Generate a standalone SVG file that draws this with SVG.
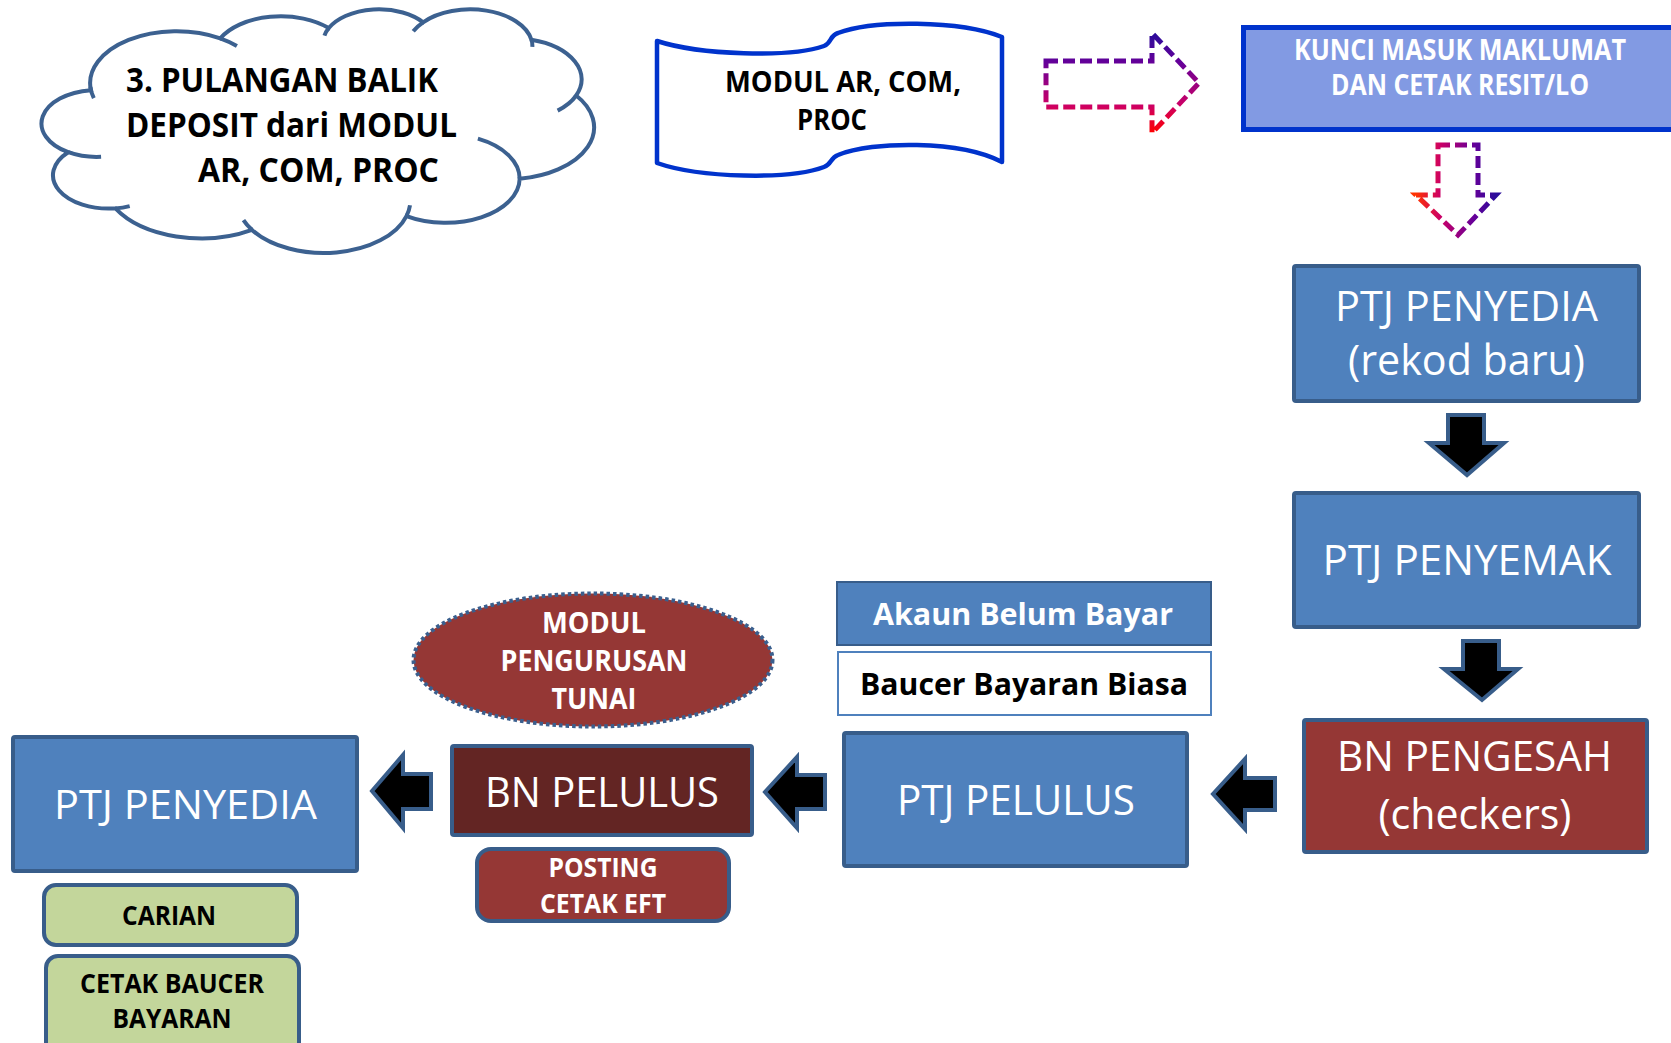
<svg xmlns="http://www.w3.org/2000/svg" width="1671" height="1043" viewBox="0 0 1671 1043">
<defs>
<linearGradient id="grR" x1="0" y1="0" x2="0" y2="1">
<stop offset="0" stop-color="#2A0C9A"/><stop offset="0.3" stop-color="#660099"/><stop offset="0.72" stop-color="#CC0066"/><stop offset="1" stop-color="#FF0000"/>
</linearGradient>
<linearGradient id="grD" x1="0" y1="0" x2="1" y2="0">
<stop offset="0" stop-color="#FF3300"/><stop offset="0.3" stop-color="#CC0066"/><stop offset="0.72" stop-color="#660099"/><stop offset="1" stop-color="#2A0C9A"/>
</linearGradient>
<style>
text{font-family:"Open Sans","Liberation Sans",sans-serif;}
.b{font-weight:bold;}
.w{fill:#FFFFFF;}
.k{fill:#000000;}
.m{text-anchor:middle;}
.blue{fill:#4F81BD;stroke:#385D8A;stroke-width:4;}
.red{fill:#953735;stroke:#385D8A;stroke-width:4;}
.blk{fill:#000000;stroke:#385D8A;stroke-width:4;stroke-linejoin:miter;}
.dash{fill:none;stroke-width:5;stroke-dasharray:12 5;}
.cl{fill:#FFFFFF;stroke:#3C6190;stroke-width:4;}
.clh{fill:none;stroke:#3C6190;stroke-width:4;}
</style>
</defs>
<rect width="1671" height="1043" fill="#FFFFFF"/>

<g id="cloud">
<path class="cl" d="M90.92,90.16 A86.45,51.91 0 0 1 220.26,38.37 A68.27,41.04 0 0 1 328.77,28.09 A55.88,33.58 0 0 1 423.11,22.33 A62.17,37.25 0 0 1 531.36,39.69 A68.27,41.08 0 0 1 576.16,95.51 A86.73,52.07 0 0 1 519.66,178.77 A74.05,44.43 0 0 1 406.49,216.08 A86.43,52.05 0 0 1 252.02,229.9 A98.82,59.55 0 0 1 115.43,208.37 A55.81,33.42 0 0 1 68.23,152.23 A55.62,33.58 0 0 1 90.92,90.16 Z"/>
<path class="clh" d="M101.08,156.85 A55.62,33.58 0 0 1 68.23,152.23 M129.69,206.11 A55.81,33.42 0 0 1 115.43,208.37 M251.94,229.78 A86.43,52.05 0 0 1 243.47,220.07 M410.01,205.27 A86.43,52.05 0 0 1 406.49,216.08 M477.89,138.64 A74.05,44.43 0 0 1 519.66,178.77 M576.06,95.72 A68.27,41.08 0 0 1 557.62,110.63 M531.59,39.65 A62.17,37.25 0 0 1 532.33,46.82 M413.23,31.32 A62.17,37.25 0 0 1 423.11,22.33 M324.43,35.66 A55.88,33.58 0 0 1 328.77,28.09 M220.21,38.32 A86.45,51.91 0 0 1 236.91,45.99 M93.83,98.18 A86.45,51.91 0 0 1 90.38,87.03"/>
<text class="b k" font-size="34" x="126" y="92" textLength="312" lengthAdjust="spacingAndGlyphs">3. PULANGAN BALIK</text>
<text class="b k" font-size="34" x="126" y="137" textLength="331" lengthAdjust="spacingAndGlyphs">DEPOSIT dari MODUL</text>
<text class="b k" font-size="34" x="198" y="182" textLength="241" lengthAdjust="spacingAndGlyphs">AR, COM, PROC</text>
</g>

<g id="modul-ar-com-proc">
<path d="M657,41 C700,55 790,58 824,46 C832,43 829,36 838,33 C872,20 960,20 1002,37 L1002,162 C960,140 872,141 838,155 C830,158 832,164 824,167 C790,180 700,178 657,163 Z" fill="#FFFFFF" stroke="#0033CC" stroke-width="4.5" stroke-linejoin="round"/>
<text class="b k" font-size="28" x="725" y="92" textLength="236" lengthAdjust="spacingAndGlyphs">MODUL AR, COM,</text>
<text class="b k" font-size="28" x="797" y="130" textLength="70" lengthAdjust="spacingAndGlyphs">PROC</text>
</g>

<g id="kunci-masuk">
<rect x="1243.5" y="27.5" width="460" height="102" fill="#829AE3" stroke="#0033CC" stroke-width="5"/>
<text class="b w m" font-size="28" x="1460" y="60" textLength="332" lengthAdjust="spacingAndGlyphs">KUNCI MASUK MAKLUMAT</text>
<text class="b w m" font-size="28" x="1460" y="95" textLength="258" lengthAdjust="spacingAndGlyphs">DAN CETAK RESIT/LO</text>
</g>

<g id="ptj-penyedia-rekod-baru">
<rect class="blue" x="1294" y="266" width="345" height="135" rx="2"/>
<text class="w m" font-size="42" x="1466.5" y="321" textLength="263" lengthAdjust="spacingAndGlyphs">PTJ PENYEDIA</text>
<text class="w m" font-size="42" x="1466.5" y="375" textLength="237" lengthAdjust="spacingAndGlyphs">(rekod baru)</text>
</g>

<g id="ptj-penyemak">
<rect class="blue" x="1294" y="493" width="345" height="134" rx="2"/>
<text class="w m" font-size="42" x="1467" y="575" textLength="289" lengthAdjust="spacingAndGlyphs">PTJ PENYEMAK</text>
</g>

<g id="bn-pengesah">
<rect class="red" x="1304" y="720" width="343" height="132" rx="2"/>
<text class="w m" font-size="42" x="1474.5" y="771" textLength="275" lengthAdjust="spacingAndGlyphs">BN PENGESAH</text>
<text class="w m" font-size="42" x="1475" y="829" textLength="193" lengthAdjust="spacingAndGlyphs">(checkers)</text>
</g>

<g id="akaun-belum-bayar">
<rect x="837" y="582" width="374" height="63" fill="#4F81BD" stroke="#385D8A" stroke-width="2"/>
<text class="b w m" font-size="31" x="1023" y="625" textLength="300" lengthAdjust="spacingAndGlyphs">Akaun Belum Bayar</text>
</g>

<g id="baucer-bayaran-biasa">
<rect x="838" y="652" width="373" height="63" fill="#FFFFFF" stroke="#4F81BD" stroke-width="2"/>
<text class="b k m" font-size="31" x="1024" y="695" textLength="328" lengthAdjust="spacingAndGlyphs">Baucer Bayaran Biasa</text>
</g>

<g id="ptj-pelulus">
<rect class="blue" x="844" y="733" width="343" height="133" rx="2"/>
<text class="w m" font-size="42" x="1016" y="815" textLength="238" lengthAdjust="spacingAndGlyphs">PTJ PELULUS</text>
</g>

<g id="modul-pengurusan-tunai">
<ellipse cx="593" cy="660" rx="179.5" ry="66.5" fill="#953735" stroke="#3A5F8E" stroke-width="4" stroke-dasharray="3.5 3"/>
<text class="b w m" font-size="28" x="594" y="633" textLength="104" lengthAdjust="spacingAndGlyphs">MODUL</text>
<text class="b w m" font-size="28" x="594" y="671" textLength="187" lengthAdjust="spacingAndGlyphs">PENGURUSAN</text>
<text class="b w m" font-size="28" x="594" y="709" textLength="85" lengthAdjust="spacingAndGlyphs">TUNAI</text>
</g>

<g id="bn-pelulus">
<rect x="452" y="746" width="300" height="89" rx="2" fill="#632523" stroke="#385D8A" stroke-width="4"/>
<text class="w m" font-size="42" x="602" y="807" textLength="234" lengthAdjust="spacingAndGlyphs">BN PELULUS</text>
</g>

<g id="posting-cetak-eft">
<rect class="red" x="477" y="849" width="252" height="72" rx="14"/>
<text class="b w m" font-size="26" x="603" y="877" textLength="109" lengthAdjust="spacingAndGlyphs">POSTING</text>
<text class="b w m" font-size="26" x="603" y="913" textLength="126" lengthAdjust="spacingAndGlyphs">CETAK EFT</text>
</g>

<g id="ptj-penyedia">
<rect class="blue" x="13" y="737" width="344" height="134" rx="2"/>
<text class="w m" font-size="41" x="185.5" y="819" textLength="263" lengthAdjust="spacingAndGlyphs">PTJ PENYEDIA</text>
</g>

<g id="carian">
<rect x="44" y="885" width="253" height="60" rx="12" fill="#C3D69B" stroke="#385D8A" stroke-width="4"/>
<text class="b k m" font-size="26" x="169" y="925" textLength="94" lengthAdjust="spacingAndGlyphs">CARIAN</text>
</g>

<g id="cetak-baucer-bayaran">
<rect x="46" y="956" width="253" height="100" rx="12" fill="#C3D69B" stroke="#385D8A" stroke-width="4"/>
<text class="b k m" font-size="26" x="172" y="993" textLength="184" lengthAdjust="spacingAndGlyphs">CETAK BAUCER</text>
<text class="b k m" font-size="26" x="172" y="1028" textLength="119" lengthAdjust="spacingAndGlyphs">BAYARAN</text>
</g>

<g id="connectors">
<path class="dash" stroke="url(#grR)" d="M1046,61 L1152,61 L1152,33 L1199,83 L1152,133 L1152,107 L1046,107 Z"/>
<path class="dash" stroke="url(#grD)" d="M1438,145 L1478,145 L1478,195 L1496,195 L1458,235 L1416,195 L1438,195 Z"/>
<path class="blk" d="M1448,415 L1484,415 L1484,443 L1504,443 L1467,475 L1429,443 L1448,443 Z"/>
<path class="blk" d="M1463,641 L1499,641 L1499,669 L1518,669 L1482,700 L1444,669 L1463,669 Z"/>
<path class="blk" d="M1275,778 L1245,778 L1245,759 L1213,794 L1245,829 L1245,810 L1275,810 Z"/>
<path class="blk" d="M825,775 L797,775 L797,757 L765,792 L797,828 L797,809 L825,809 Z"/>
<path class="blk" d="M431,774 L403,774 L403,755 L372,791 L403,828 L403,809 L431,809 Z"/>
</g>
</svg>
